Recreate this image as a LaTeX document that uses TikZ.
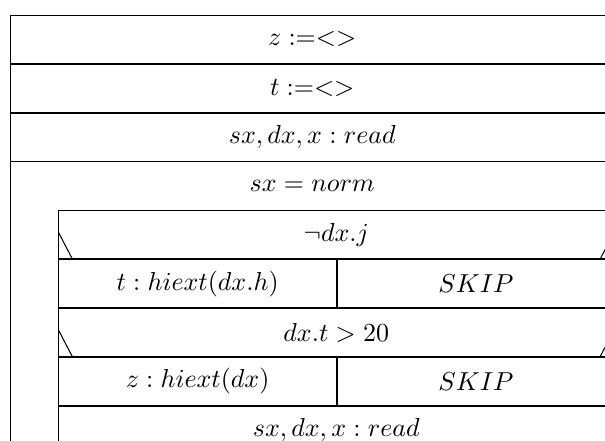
\documentclass[tikz,border=0pt]{standalone}
\usepackage{tikz}
\usetikzlibrary{positioning}
\tikzset{
  stmt/.style={rectangle, draw, inner sep=0pt, minimum width=232pt, minimum height=18.4pt},
  hdr/.style={rectangle, inner sep=0pt, minimum width=232pt, minimum height=18.4pt},
  body/.style={rectangle, draw, inner sep=0pt, minimum width=213.5pt, minimum height=18.4pt},
  half/.style={rectangle, draw, inner sep=0pt, minimum width=106.75pt, minimum height=18.4pt}
}

\begin{document}
\begin{tikzpicture}
\useasboundingbox (0,0) rectangle (232.9pt,-169.4pt);
\clip (0,0) rectangle (232.9pt,-169.4pt);
\node[stmt, anchor=north west] (z) at (4pt,-5.8pt) {$z :=<>$};
\node[stmt, below=0pt of z] (t) {$t :=<>$};
\node[stmt, below=0pt of t] (rd) {$sx, dx, x : read$};
\node[hdr, below=0pt of rd] (loop) {$sx = norm$};
\node[body, anchor=north east] (ifj) at (loop.south east) {$\neg dx.j$};
\node[half, anchor=north west] (th) at (ifj.south west) {$t : hiext(dx.h)$};
\node[half, right=0pt of th] (sk1) {$SKIP$};
\node[body, anchor=north west] (ift) at (th.south west) {$dx.t > 20$};
\node[half, anchor=north west] (zh) at (ift.south west) {$z : hiext(dx)$};
\node[half, right=0pt of zh] (sk2) {$SKIP$};
\node[body, anchor=north west] (rd2) at (zh.south west) {$sx, dx, x : read$};
% loop frame
\draw (rd.south west) -- (rd.south west |- rd2.south);
\draw (rd.south east) -- (rd.south east |- rd2.south);
% branch marks
\draw ([yshift=10.4pt]ifj.south west) -- ([xshift=5.4pt]ifj.south west);
\draw ([yshift=10.4pt]ifj.south east) -- ([xshift=-5.4pt]ifj.south east);
\draw ([yshift=10.4pt]ift.south west) -- ([xshift=5.4pt]ift.south west);
\draw ([yshift=10.4pt]ift.south east) -- ([xshift=-5.4pt]ift.south east);
\end{tikzpicture}
\end{document}
